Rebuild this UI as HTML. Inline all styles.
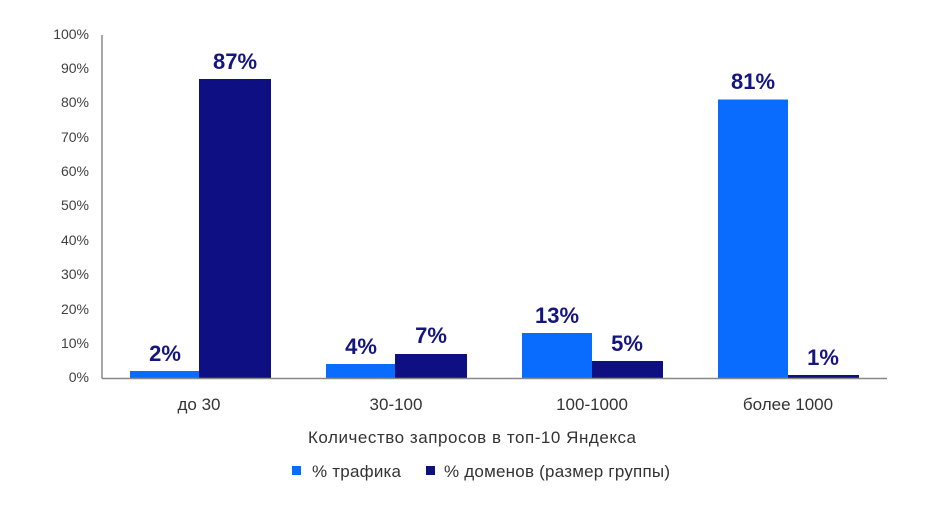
<!DOCTYPE html>
<html><head><meta charset="utf-8"><style>
html,body{margin:0;padding:0;background:#fff;}
svg{display:block;}
text{font-family:"Liberation Sans","DejaVu Sans",sans-serif;}
</style></head><body>
<svg width="940" height="516" viewBox="0 0 940 516" xmlns="http://www.w3.org/2000/svg">
<g font-size="14" fill="#404040" text-anchor="end">
<text x="89" y="39">100%</text>
<text x="89" y="73">90%</text>
<text x="89" y="107">80%</text>
<text x="89" y="142">70%</text>
<text x="89" y="176">60%</text>
<text x="89" y="210">50%</text>
<text x="89" y="245">40%</text>
<text x="89" y="279">30%</text>
<text x="89" y="314">20%</text>
<text x="89" y="348">10%</text>
<text x="89" y="382">0%</text>
</g>
<g fill="#0a6cff">
<rect x="130" y="371" width="69" height="7"/>
<rect x="326" y="364" width="69" height="14"/>
<rect x="522" y="333" width="70" height="45"/>
<rect x="718" y="99.5" width="70" height="278.5"/>
</g>
<g fill="#0f0f84">
<rect x="199" y="79" width="72" height="299"/>
<rect x="395" y="354" width="72" height="24"/>
<rect x="592" y="361" width="71" height="17"/>
<rect x="788" y="375" width="71" height="3"/>
</g>
<line x1="102" y1="35" x2="102" y2="378.5" stroke="#888" stroke-width="1.5"/>
<line x1="102" y1="378.5" x2="887" y2="378.5" stroke="#888" stroke-width="1.5"/>
<g font-size="22" font-weight="bold" fill="#151580" text-anchor="middle">
<text x="165" y="361">2%</text>
<text x="235" y="69">87%</text>
<text x="361" y="354">4%</text>
<text x="431" y="343">7%</text>
<text x="557" y="323">13%</text>
<text x="627" y="351">5%</text>
<text x="753" y="89">81%</text>
<text x="823" y="365">1%</text>
</g>
<g font-size="17" fill="#333" text-anchor="middle">
<text x="199" y="410">до 30</text>
<text x="396" y="410">30-100</text>
<text x="592" y="410">100-1000</text>
<text x="788" y="410">более 1000</text>
</g>
<g font-size="17" fill="#333">
<text x="308" y="443" textLength="328">Количество запросов в топ-10 Яндекса</text>
<text x="312" y="477" textLength="89">% трафика</text>
<text x="444" y="477" textLength="226">% доменов (размер группы)</text>
</g>
<rect x="292" y="466" width="9" height="9" fill="#0a6cff"/>
<rect x="426" y="466" width="9" height="9" fill="#0f0f84"/>
</svg>
</body></html>
